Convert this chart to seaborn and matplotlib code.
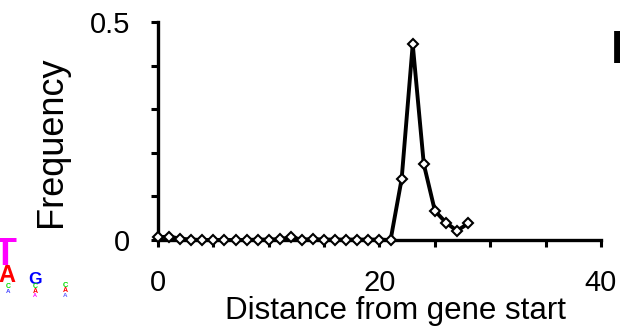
import matplotlib
matplotlib.use("Agg")
import matplotlib.pyplot as plt
import seaborn as sns
import pandas as pd

# ---- data ----
distance = [0, 1, 2, 3, 4, 5, 6, 7, 8, 9, 10, 11, 12, 13, 14,
            15, 16, 17, 18, 19, 20, 21, 22, 23, 24, 25, 26, 27, 28]
frequency = [0.006, 0.008, 0.003, 0.001, 0.0, 0.0, 0.0, 0.0, 0.0, 0.001,
             0.001, 0.002, 0.006, 0.001, 0.002, 0.001, 0.001, 0.001, 0.001,
             0.001, 0.001, 0.0, 0.14, 0.449, 0.174, 0.067, 0.04, 0.021, 0.038]
x_ticks = [0, 5, 10, 15, 20, 25, 30, 35, 40]
x_tick_labels = ["0", "", "", "", "20", "", "", "", "40"]
y_ticks = [0, 0.1, 0.2, 0.3, 0.4, 0.5]
y_tick_labels = ["0", "", "", "", "", "0.5"]
x_label = "Distance from gene start"
y_label = "Frequency"
panel_label = "B"

# sequence-logo letters
logo_letters = ["T", "A", "G", "C", "C", "C", "A", "A", "A", "A", "A"]
logo_colors = ["#ff00ff", "#ff0000", "#0000ff", "#00dd00", "#00dd00", "#00dd00",
               "#4040ff", "#ff0000", "#ff0000", "#6060ff", "#ff00ff"]
logo_x = [5, 7, 35, 8, 35, 65, 8, 35, 65, 65, 35]
logo_base = [265, 282, 284, 288, 288, 287, 293, 293, 292, 297, 297]
logo_size = [27, 17, 12.5, 5, 5, 5.5, 4.5, 5, 5, 4.5, 4]

df = pd.DataFrame({"distance": distance, "frequency": frequency})

sns.set_style("ticks")
plt.rcParams["font.family"] = ["Liberation Sans", "DejaVu Sans"]

W, H = 620, 328
fig = plt.figure(figsize=(W / 100, H / 100), dpi=100)
ax = fig.add_axes([158 / W, 1 - 240 / H, (601 - 158) / W, (240 - 22) / H])

sns.lineplot(data=df, x="distance", y="frequency", ax=ax, color="black",
             linewidth=2.8, marker="D", markersize=5.2,
             markerfacecolor="white", markeredgecolor="black",
             markeredgewidth=1.5, clip_on=False, zorder=5)

ax.set_xlim(0, 40)
ax.set_ylim(0, 0.5)
ax.set_xticks(x_ticks)
ax.set_xticklabels(x_tick_labels)
ax.set_yticks(y_ticks)
ax.set_yticklabels(y_tick_labels)
ax.tick_params(axis="both", direction="out", length=5, width=2.2,
               color="black", labelsize=21, labelcolor="black")
ax.tick_params(axis="y", pad=15)
ax.tick_params(axis="x", pad=16)
for side in ["top", "right"]:
    ax.spines[side].set_visible(False)
for side in ["left", "bottom"]:
    ax.spines[side].set_linewidth(2.4)
    ax.spines[side].set_color("black")

ax.set_xlabel(x_label, fontsize=22.5, color="black")
ax.set_ylabel(y_label, fontsize=26, color="black")
ax.xaxis.set_label_coords((395.5 - 158) / 443, (240 - 296) / 218)
ax.yaxis.set_label_coords((69 - 158) / 443, (240 - 142) / 218)
ax.grid(False)

fig.text(611 / W, 1 - 63 / H, panel_label, fontsize=34, fontweight="bold",
         ha="left", va="baseline", color="black")

for ch, col, xp, bp, sz in zip(logo_letters, logo_colors, logo_x, logo_base, logo_size):
    fig.text(xp / W, 1 - bp / H, ch, color=col, fontsize=sz, fontweight="bold",
             ha="center", va="baseline")

fig.savefig("out.png", dpi=100)
